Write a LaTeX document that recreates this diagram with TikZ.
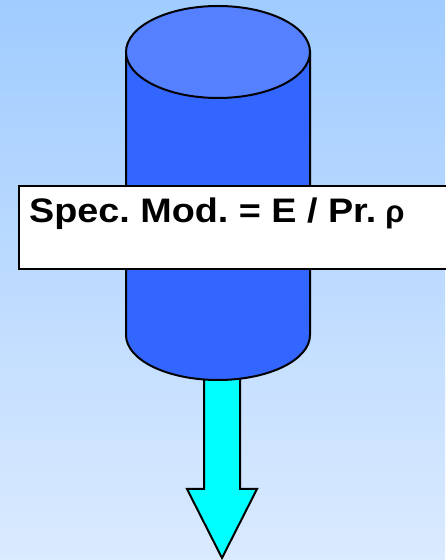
\documentclass[tikz,border=0pt]{standalone}
\usepackage{fontspec}
\setmainfont{Liberation Sans}
\begin{document}
\begin{tikzpicture}[x=1pt,y=1pt,
  outline/.style={draw=black,line width=2pt},
  labelbox/.style={outline,fill=white,minimum width=445pt,minimum height=83pt,inner sep=0pt,anchor=north west}]
\definecolor{bgtop}{RGB}{160,204,255}
\definecolor{bgbot}{RGB}{218,234,255}
\definecolor{cylside}{RGB}{51,102,255}
\definecolor{cyltop}{RGB}{85,128,255}
\definecolor{arrowcyan}{RGB}{0,255,255}
\useasboundingbox (0,0) rectangle (445,560);
\shade[top color=bgtop,bottom color=bgbot] (0,0) rectangle (445,560);
% arrow
\coordinate (tip) at (222,2);
\draw[outline,fill=arrowcyan,line join=miter]
  (204,200) -- (204,71) -- (187,71) -- (tip) -- (257,71) -- (240,71) -- (240,200) -- cycle;
% cylinder body
\draw[outline,fill=cylside]
  (126,508) -- (126,225) arc[start angle=180,end angle=360,x radius=92,y radius=45] -- (310,508) -- cycle;
% cylinder top
\draw[outline,fill=cyltop] (218,508) ellipse[x radius=92,y radius=46];
% label box
\node[labelbox] (box) at (18,375) {};
\node[anchor=base west,inner sep=0pt,font=\bfseries\fontsize{34}{36}\selectfont] (lbl) at (29,337)
  {\scalebox{1.11}[1]{Spec.\ Mod.\ = E / Pr.}\hspace{9pt}{\fontsize{31}{34}\selectfont ρ}};
\end{tikzpicture}
\end{document}
